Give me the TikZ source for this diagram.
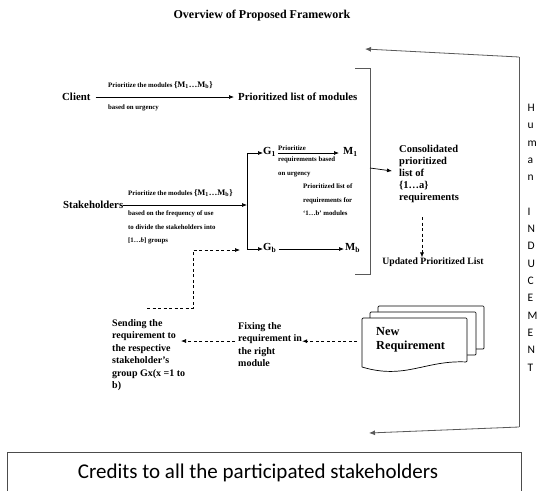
\documentclass[tikz,border=0pt]{standalone}
\usepackage{fontspec}
\setmainfont{Liberation Serif}
\newfontfamily\calib{Carlito}
\usetikzlibrary{arrows.meta}
\newcommand{\mfont}{\fontsize{8.5}{9}\selectfont}
\begin{document}
\begin{tikzpicture}[x=1pt,y=-1pt,
  lbl/.style={font=\bfseries\fontsize{10.8}{12}\selectfont, inner sep=0pt, anchor=west},
  para/.style={font=\bfseries\fontsize{10}{12.5}\selectfont, inner sep=0pt, anchor=north west, align=left},
  tiny/.style={font=\bfseries\fontsize{6.8}{13.5}\selectfont, inner sep=0pt, anchor=west, align=left},
  tinyp/.style={tiny, anchor=north west},
  arr/.style={-{Latex[length=5pt,width=4pt]}, line width=0.7pt},
  darr/.style={arr, dashed, dash pattern=on 3pt off 2.5pt},
  gline/.style={line width=0.8pt, draw=black!65},
  garr/.style={gline, -{Latex[length=6pt,width=5pt]}}
]
\useasboundingbox (0,0) rectangle (537,490);

% title
\node[font=\bfseries\fontsize{12}{14}\selectfont, inner sep=0pt] (title) at (262,16) {Overview of Proposed Framework};

% client row
\node[lbl] (client) at (62,97) {Client};
\node[lbl] (plist) at (238,97) {Prioritized list of modules};
\draw[arr] ([xshift=5pt]client.east) -- ([xshift=-4pt]plist.west);
\node[tiny] (cl1) at (108,85) {Prioritize the modules {\mfont\{M\textsubscript{1}…M\textsubscript{b}\}}};
\node[tiny] (cl2) at (108,108) {based on urgency};

% stakeholders row
\node[lbl] (stk) at (63,205) {Stakeholders};
\coordinate (jm) at (247,205);
\coordinate (jt) at (247,153);
\coordinate (jb) at (247,249);
\draw[arr] (stk.east) -- (jm);
\draw[line width=0.7pt] (jt) -- (jb);
\node[tiny] (st1) at (128,193) {Prioritize the modules {\mfont\{M\textsubscript{1}…M\textsubscript{b}\}}};
\node[tinyp] (st2) at (128,211) {based on the frequency of use\\to divide the stakeholders into\\{[}1…\textit{b}{]} groups};

% groups
\node[lbl] (g1) at (263,152) {G\textsubscript{1}};
\node[lbl] (gb) at (263,248) {G\textsubscript{b}};
\node[lbl] (m1) at (343,152) {M\textsubscript{1}};
\node[lbl] (mb) at (345,248) {M\textsubscript{b}};
\draw[arr] (jt) -- (jt -| g1.west);
\draw[arr] (jb) -- (jb -| gb.west);
\draw[arr] ([xshift=2pt]g1.east |- jt) -- ([xshift=-4pt]m1.west |- jt);
\draw[arr] ([xshift=2pt]gb.east |- jb) -- ([xshift=-1pt]mb.west |- jb);
\node[tiny] (g1a) at (278,148) {Prioritize};
\node[tinyp] (g1b) at (278,157) {requirements based\\on urgency};
\node[tinyp] (pl) at (303,184) {Prioritized list of\\requirements for\\‘1…b’ modules};

% bracket
\coordinate (brt) at (355,68);
\coordinate (brb) at (355,274);
\coordinate (brm) at (370,168);
\draw[gline] (brt) -- (370,68) -- (370,274) -- (brb);

% consolidated
\node[para, font=\bfseries\fontsize{10.5}{12}\selectfont] (cons) at (399,145) {Consolidated\\prioritized\\list of\\\{1…a\}\\requirements};
\coordinate (consin) at (392,171);
\draw[arr] (brm) -- (consin);
\node[font=\bfseries\fontsize{9.7}{11}\selectfont, inner sep=0pt] (upd) at (433,262) {Updated Prioritized List};
\coordinate (dtop) at (422,217);
\draw[darr] (dtop) -- (dtop |- upd.north);

% dashed feedback to Gb
\coordinate (d1) at (147,308);
\coordinate (d3) at (193,250);
\coordinate (d4) at (240,250);
\draw[darr] (d1) -| (d3) -- (d4);

% bottom flow
\node[para] (send) at (112,319) {Sending the\\requirement to\\the respective\\stakeholder's\\group Gx(x =1 to\\b)};
\node[para] (fix) at (238,322) {Fixing the\\requirement in\\the right\\module};

% new requirement multi-document
\draw[line width=0.7pt, rounded corners=1pt] (378,312) -- (378,306) -- (484,306) -- (484,349) -- (476,349);
\draw[line width=0.7pt, rounded corners=1pt] (370,318) -- (370,312) -- (476,312) -- (476,355) -- (467,355);
\draw[line width=0.7pt, rounded corners=1pt, fill=white] (362,367) -- (362,318) -- (467,318) -- (467,362)
   .. controls (425,360) and (405,380) .. (362,367);
\node[inner sep=0pt, minimum width=105pt, minimum height=46pt, anchor=north west] (nrbox) at (362,318) {};
\node[para, font=\bfseries\fontsize{12.3}{14}\selectfont] (nrt) at (376,327) {New\\Requirement};

\coordinate (s2) at (181,341);
\draw[darr] ([xshift=-5pt]nrbox.west) -- (nrbox.west -| fix.east);
\draw[darr] ([xshift=-3pt]fix.west |- s2) -- (s2);

% human inducement loop
\coordinate (lt) at (519,57);
\coordinate (lb) at (519,427);
\coordinate (topend) at (365,49);
\coordinate (botend) at (369,433);
\draw[garr] (lt) -- (topend);
\draw[gline] (lt) -- (lb);
\draw[garr] (lb) -- (botend);
\node[font=\calib\fontsize{11.5}{17.3}\selectfont, align=left, anchor=north west, inner sep=0pt] (hum) at (527.5,104)
  {H\\u\\m\\a\\n\\\mbox{}\\I\\N\\D\\U\\C\\E\\M\\E\\N\\T};

% credits box
\draw[line width=0.7pt, draw=black!70] (7,495) -- (7,452) -- (521,452) -- (521,495);
\node[font=\calib\fontsize{21}{24}\selectfont, inner sep=0pt] (credits) at (258,473) {Credits to all the participated stakeholders};
\end{tikzpicture}
\end{document}
